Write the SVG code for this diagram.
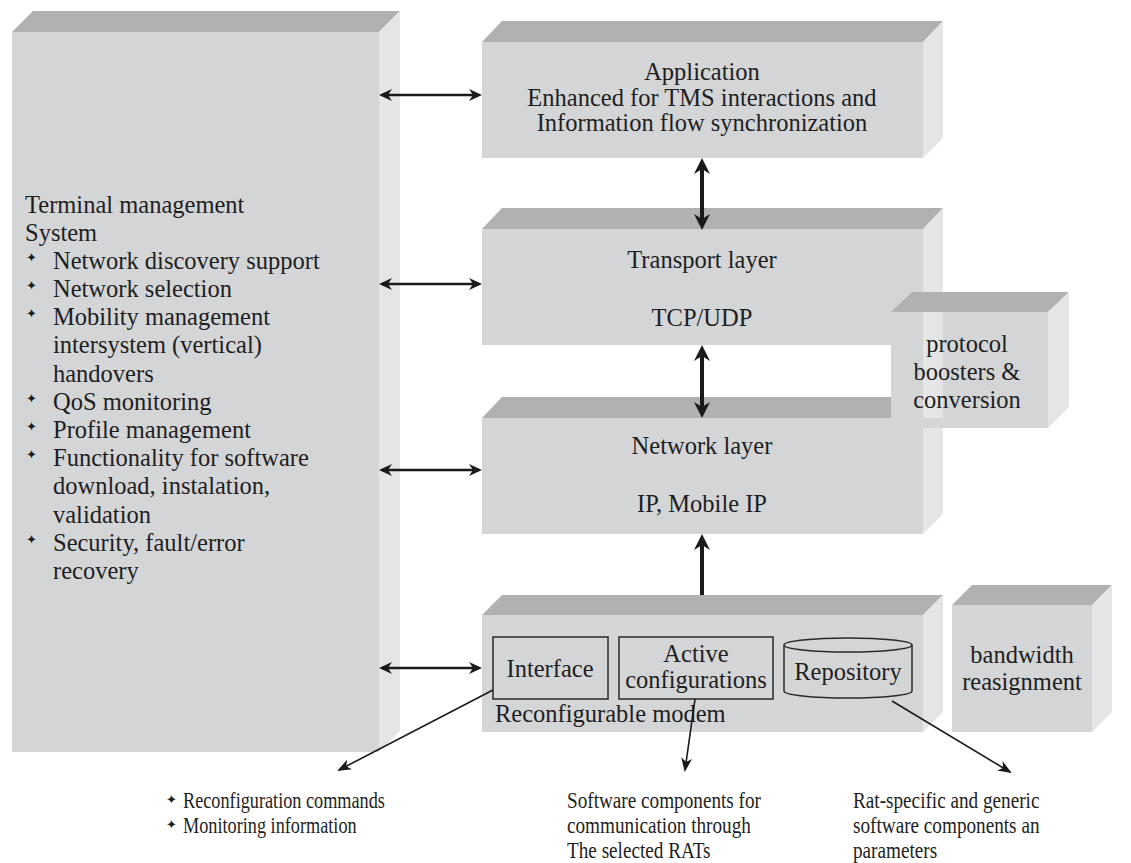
<svg xmlns="http://www.w3.org/2000/svg" width="1131" height="863" viewBox="0 0 1131 863">
  <style>
    .front { fill: #d4d5d7; }
    .top { fill: #b0b1b3; }
    .side { fill: #e4e5e7; }
    .t { font-family: "Liberation Serif", "Times New Roman", serif; font-size: 24.5px; fill: #1e1e1e; }
    .c { text-anchor: middle; }
    .bul { font-family: "DejaVu Sans", sans-serif; font-size: 13px; fill: #1e1e1e; }
    .cap { font-family: "Liberation Serif", "Times New Roman", serif; font-size: 24px; fill: #1e1e1e; }
    .inner { fill: none; stroke: #2a2a2a; stroke-width: 1.5; }
    .heavy { stroke: #1a1a1a; stroke-width: 4; fill: none; }
    .mid { stroke: #1a1a1a; stroke-width: 2.5; fill: none; }
    .thin { stroke: #1a1a1a; stroke-width: 1.6; fill: none; }
  </style>
  <defs>
    <marker id="hv" markerUnits="userSpaceOnUse" markerWidth="16" markerHeight="16" viewBox="0 0 16 16" refX="12" refY="8" orient="auto-start-reverse">
      <path d="M0,0 L16,8 L0,16 L5,8 Z" fill="#1a1a1a"/>
    </marker>
    <marker id="hm" markerUnits="userSpaceOnUse" markerWidth="13" markerHeight="12" viewBox="0 0 13 12" refX="10" refY="6" orient="auto-start-reverse">
      <path d="M0,0 L13,6 L0,12 L4,6 Z" fill="#1a1a1a"/>
    </marker>
    <marker id="ht" markerUnits="userSpaceOnUse" markerWidth="14" markerHeight="11" viewBox="0 0 14 11" refX="12" refY="5.5" orient="auto">
      <path d="M0,0 L14,5.5 L0,11 L4,5.5 Z" fill="#1a1a1a"/>
    </marker>
  </defs>

  <rect width="1131" height="863" fill="#ffffff"/>

  <!-- Terminal management system block -->
  <g id="tms">
    <polygon class="top" points="12,32 33,11 400,11 379,32"/>
    <polygon class="side" points="379,32 400,11 400,731 379,752"/>
    <rect class="front" x="12" y="32" width="367" height="720"/>
    <text class="t" x="25" y="213">Terminal management</text>
    <text class="t" x="25" y="241">System</text>
    <g class="bul">
      <text x="26" y="262">✦</text>
      <text x="26" y="290">✦</text>
      <text x="26" y="318">✦</text>
      <text x="26" y="403">✦</text>
      <text x="26" y="431">✦</text>
      <text x="26" y="459">✦</text>
      <text x="26" y="544">✦</text>
    </g>
    <text class="t" x="53" y="269">Network discovery support</text>
    <text class="t" x="53" y="297">Network selection</text>
    <text class="t" x="53" y="325">Mobility management</text>
    <text class="t" x="53" y="353">intersystem (vertical)</text>
    <text class="t" x="53" y="382">handovers</text>
    <text class="t" x="53" y="410">QoS monitoring</text>
    <text class="t" x="53" y="438">Profile management</text>
    <text class="t" x="53" y="466">Functionality for software</text>
    <text class="t" x="53" y="494">download, instalation,</text>
    <text class="t" x="53" y="523">validation</text>
    <text class="t" x="53" y="551">Security, fault/error</text>
    <text class="t" x="53" y="579">recovery</text>
  </g>

  <!-- Application layer -->
  <g id="application">
    <polygon class="top" points="482,42 502,21 943,21 923,42"/>
    <polygon class="side" points="923,42 943,21 943,138 923,158"/>
    <rect class="front" x="482" y="42" width="441" height="116"/>
    <text class="t c" x="702" y="80">Application</text>
    <text class="t c" x="702" y="106">Enhanced for TMS interactions and</text>
    <text class="t c" x="702" y="131">Information flow synchronization</text>
  </g>

  <!-- Transport layer -->
  <g id="transport">
    <polygon class="top" points="482,229 502,208 943,208 923,229"/>
    <polygon class="side" points="923,229 943,208 943,325 923,345"/>
    <rect class="front" x="482" y="229" width="441" height="116"/>
    <text class="t c" x="702" y="268">Transport layer</text>
    <text class="t c" x="702" y="326">TCP/UDP</text>
  </g>

  <!-- Network layer -->
  <g id="network">
    <polygon class="top" points="482,418 502,397 943,397 923,418"/>
    <polygon class="side" points="923,418 943,397 943,514 923,534"/>
    <rect class="front" x="482" y="418" width="441" height="116"/>
    <text class="t c" x="702" y="454">Network layer</text>
    <text class="t c" x="702" y="512">IP, Mobile IP</text>
  </g>

  <!-- Protocol boosters block, tucked behind the layer edge strip -->
  <g id="protocol">
    <polygon class="top" points="891,312 912,292 1069,292 1048,312"/>
    <polygon class="side" points="1048,312 1069,292 1069,407 1048,428"/>
    <rect class="front" x="891" y="312" width="157" height="116"/>
    <rect class="side" x="923" y="312" width="20" height="106"/>
    <text class="t c" x="967" y="352">protocol</text>
    <text class="t c" x="967" y="380">boosters &amp;</text>
    <text class="t c" x="967" y="408">conversion</text>
  </g>

  <!-- Reconfigurable modem -->
  <g id="modem">
    <polygon class="top" points="482,615 502,595 943,595 923,615"/>
    <polygon class="side" points="923,615 943,595 943,712 923,732"/>
    <rect class="front" x="482" y="615" width="441" height="117"/>
    <rect class="inner" x="493" y="637" width="115" height="62"/>
    <text class="t c" x="550" y="677">Interface</text>
    <rect class="inner" x="619" y="637" width="154" height="62"/>
    <text class="t c" x="696" y="662">Active</text>
    <text class="t c" x="696" y="688">configurations</text>
    <path class="inner" d="M784,645 A64,7 0 0 1 912,645 L912,691 A64,7 0 0 1 784,691 Z"/>
    <path class="inner" d="M784,645 A64,7 0 0 0 912,645"/>
    <text class="t c" x="848" y="680">Repository</text>
    <text class="t" x="495" y="722">Reconfigurable modem</text>
  </g>

  <!-- Bandwidth reassignment block -->
  <g id="bandwidth">
    <polygon class="top" points="952,605 972,585 1112,585 1092,605"/>
    <polygon class="side" points="1092,605 1112,585 1112,712 1092,732"/>
    <rect class="front" x="952" y="605" width="140" height="127"/>
    <text class="t c" x="1022" y="663">bandwidth</text>
    <text class="t c" x="1022" y="690">reasignment</text>
  </g>

  <!-- Connectors -->
  <g id="connectors">
    <line class="mid" x1="382" y1="95" x2="479" y2="95" marker-start="url(#hm)" marker-end="url(#hm)"/>
    <line class="mid" x1="382" y1="284" x2="479" y2="284" marker-start="url(#hm)" marker-end="url(#hm)"/>
    <line class="mid" x1="382" y1="470" x2="479" y2="470" marker-start="url(#hm)" marker-end="url(#hm)"/>
    <line class="mid" x1="382" y1="668" x2="479" y2="668" marker-start="url(#hm)" marker-end="url(#hm)"/>
    <line class="heavy" x1="702" y1="162" x2="702" y2="226" marker-start="url(#hv)" marker-end="url(#hv)"/>
    <line class="heavy" x1="702" y1="349" x2="702" y2="414" marker-start="url(#hv)" marker-end="url(#hv)"/>
    <line class="heavy" x1="702" y1="595" x2="702" y2="538" marker-end="url(#hv)"/>
    <line class="thin" x1="493" y1="690" x2="339" y2="770" marker-end="url(#ht)"/>
    <line class="thin" x1="695" y1="699" x2="685" y2="770" marker-end="url(#ht)"/>
    <line class="thin" x1="892" y1="701" x2="1010" y2="772" marker-end="url(#ht)"/>
  </g>

  <!-- Captions under the modem -->
  <g id="captions">
    <text class="bul" x="166" y="804">✦</text>
    <text class="bul" x="166" y="829">✦</text>
    <g transform="translate(183 0) scale(0.76 1)">
      <text class="cap" x="0" y="808">Reconfiguration commands</text>
      <text class="cap" x="0" y="833">Monitoring information</text>
    </g>
    <g transform="translate(567 0) scale(0.8 1)">
      <text class="cap" x="0" y="808">Software components for</text>
      <text class="cap" x="0" y="833">communication through</text>
      <text class="cap" x="0" y="858">The selected RATs</text>
    </g>
    <g transform="translate(853 0) scale(0.8 1)">
      <text class="cap" x="0" y="808">Rat-specific and generic</text>
      <text class="cap" x="0" y="833">software components an</text>
      <text class="cap" x="0" y="858">parameters</text>
    </g>
  </g>
</svg>
